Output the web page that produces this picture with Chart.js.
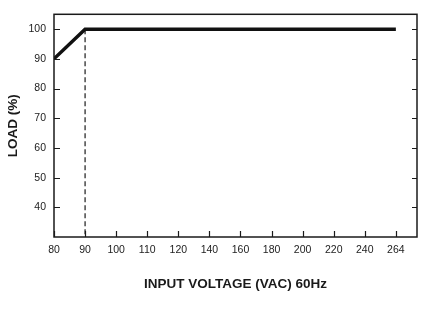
<!DOCTYPE html>
<html>
<head>
<meta charset="utf-8">
<script src="https://cdn.jsdelivr.net/npm/chart.js@4.4.1/dist/chart.umd.min.js"></script>
<style>
  html, body { margin: 0; padding: 0; background: #ffffff; }
  #wrap { width: 421px; height: 314px; }
</style>
</head>
<body>
<div id="wrap"><canvas id="c" width="421" height="314"></canvas></div>
<script>
// ---- data ----
const voltageLabels = ['80', '90', '100', '110', '120', '140', '160', '180', '200', '220', '240', '264'];
const loadValues = [90, 100, 100, 100, 100, 100, 100, 100, 100, 100, 100, 100];
const loadTicks = [40, 50, 60, 70, 80, 90, 100];
const derateVoltageIndex = [1, 1];
const derateMarker = [100, 30];

const FONT = "'Liberation Sans', Arial, sans-serif";
const INK = '#1a1a1a';

const loadPoints = loadValues.map((v, i) => ({ x: i, y: v }));
const markerPoints = derateVoltageIndex.map((x, i) => ({ x: x, y: derateMarker[i] }));

const framePlugin = {
  id: 'frame',
  afterDatasetsDraw(chart) {
    const { ctx, chartArea: a, scales } = chart;
    ctx.save();
    ctx.strokeStyle = INK;
    ctx.lineWidth = 1.5;
    ctx.strokeRect(a.left, a.top, a.right - a.left, a.bottom - a.top);
    ctx.lineWidth = 1.2;
    ctx.beginPath();
    scales.y.ticks.forEach(t => {
      const y = Math.round(scales.y.getPixelForValue(t.value)) + 0.5;
      ctx.moveTo(a.left, y); ctx.lineTo(a.left + 6, y);
      ctx.moveTo(a.right, y); ctx.lineTo(a.right - 5, y);
    });
    scales.x.ticks.forEach(t => {
      const x = Math.round(scales.x.getPixelForValue(t.value)) + 0.5;
      ctx.moveTo(x, a.bottom); ctx.lineTo(x, a.bottom - 6);
    });
    ctx.stroke();
    ctx.restore();
  }
};

new Chart(document.getElementById('c'), {
  type: 'line',
  data: {
    datasets: [
      {
        data: loadPoints,
        borderColor: '#111111',
        borderWidth: 3.5,
        borderCapStyle: 'butt',
        borderJoinStyle: 'miter',
        pointRadius: 0,
        tension: 0,
        fill: false
      },
      {
        data: markerPoints,
        borderColor: '#1a1a1a',
        borderWidth: 1.2,
        borderDash: [5, 3],
        pointRadius: 0,
        fill: false
      }
    ]
  },
  options: {
    responsive: false,
    devicePixelRatio: 1,
    animation: false,
    layout: { padding: { top: 3, right: 4, left: 0, bottom: 0 } },
    plugins: { legend: { display: false }, tooltip: { enabled: false } },
    scales: {
      x: {
        type: 'linear',
        min: 0,
        max: 11.68,
        afterBuildTicks: s => { s.ticks = voltageLabels.map((l, i) => ({ value: i })); },
        afterFit: s => { s.height = 77; },
        grid: { display: false, drawTicks: false },
        border: { display: false },
        ticks: {
          autoSkip: false,
          maxRotation: 0,
          padding: 7,
          color: '#222222',
          font: { family: FONT, size: 10.5, lineHeight: 1.2 },
          callback: v => voltageLabels[v]
        },
        title: {
          display: true,
          text: 'INPUT VOLTAGE (VAC) 60Hz',
          color: INK,
          font: { family: FONT, size: 13.5, weight: 'bold', lineHeight: 1.2 },
          padding: { top: 0, bottom: 22 }
        }
      },
      y: {
        min: 30,
        max: 105,
        afterBuildTicks: s => { s.ticks = loadTicks.map(v => ({ value: v })); },
        afterFit: s => { s.width = 54; },
        grid: { display: false, drawTicks: false },
        border: { display: false },
        ticks: {
          padding: 8,
          color: '#222222',
          font: { family: FONT, size: 10.5, lineHeight: 1.2 }
        },
        title: {
          display: true,
          text: 'LOAD (%)',
          color: INK,
          font: { family: FONT, size: 13.5, weight: 'bold', lineHeight: 1.2 },
          padding: { top: 5, bottom: 0 }
        }
      }
    }
  },
  plugins: [framePlugin]
});
</script>
</body>
</html>
